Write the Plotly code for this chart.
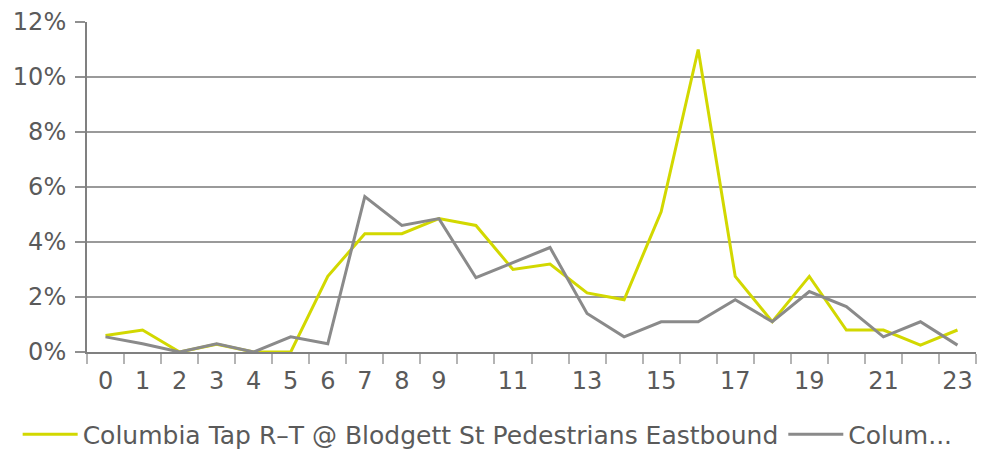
import plotly.graph_objects as go

hours = list(range(24))
tick_labels = ["0", "1", "2", "3", "4", "5", "6", "7", "8", "9", "11", "13", "15", "17", "19", "21", "23"]
tick_positions = [0, 1, 2, 3, 4, 5, 6, 7, 8, 9, 11, 13, 15, 17, 19, 21, 23]

series_a_name = "Columbia Tap R–T @ Blodgett St Pedestrians Eastbound"
series_a = [0.6, 0.8, 0.0, 0.28, 0.0, 0.0, 2.75, 4.3, 4.3, 4.85, 4.6, 3.0, 3.2, 2.15, 1.9,
            5.1, 11.0, 2.75, 1.1, 2.75, 0.8, 0.8, 0.25, 0.8]
series_b_name = "Colum..."
series_b = [0.55, 0.3, 0.0, 0.3, 0.0, 0.55, 0.3, 5.65, 4.6, 4.85, 2.7, 3.25, 3.8, 1.4, 0.55,
            1.1, 1.1, 1.9, 1.1, 2.2, 1.65, 0.55, 1.1, 0.25]
y_ticks = [0, 2, 4, 6, 8, 10, 12]
y_tick_labels = ["0%", "2%", "4%", "6%", "8%", "10%", "12%"]

FONT = "DejaVu Sans, sans-serif"
TXT = "#5a5a5a"
boundaries = [h - 0.5 for h in hours] + [23.5]

fig = go.Figure()
fig.add_trace(go.Scatter(x=hours, y=series_a, name=series_a_name, mode="lines",
                         line=dict(color="#d2d800", width=3)))
fig.add_trace(go.Scatter(x=hours, y=series_b, name=series_b_name, mode="lines",
                         line=dict(color="#8a8a8a", width=3)))

# page body has an 8px default margin, so the figure is sized to fit the window
fig.update_layout(
    width=979, height=442,
    margin=dict(l=79, r=11, t=14, b=98, autoexpand=False),
    plot_bgcolor="white", paper_bgcolor="white",
    font=dict(family=FONT, size=24, color=TXT),
    showlegend=True,
    legend=dict(orientation="h", x=-0.078, xanchor="left", y=-0.25, yanchor="middle",
                font=dict(family=FONT, size=25, color=TXT), itemwidth=55,
                bgcolor="rgba(0,0,0,0)"),
    xaxis=dict(range=[-0.5, 23.5], tickvals=tick_positions, ticktext=tick_labels,
               ticks="", showgrid=False, zeroline=False, ticklabelstandoff=6,
               showline=True, linecolor="#808080", linewidth=2, automargin=False,
               tickfont=dict(family=FONT, size=24, color=TXT),
               minor=dict(tickvals=boundaries, ticks="outside",
                          ticklen=10, tickcolor="#b4b4b4", tickwidth=1.5, showgrid=False)),
    xaxis2=dict(range=[-0.5, 23.5], overlaying="x", anchor="y", side="bottom",
                showticklabels=False, ticks="", showgrid=False, zeroline=False, showline=False,
                automargin=False,
                minor=dict(tickvals=boundaries, ticks="inside",
                           ticklen=9, tickcolor="#b4b4b4", tickwidth=1.5, showgrid=False)),
    yaxis=dict(range=[0, 12], tickvals=y_ticks, ticktext=y_tick_labels,
               ticks="outside", ticklen=10, tickcolor="#909090", tickwidth=1.5,
               ticklabelstandoff=4, automargin=False,
               showgrid=True, gridcolor="#9a9a9a", gridwidth=1.5, zeroline=False,
               showline=True, linecolor="#808080", linewidth=2,
               tickfont=dict(family=FONT, size=24, color=TXT)),
)

fig.write_html("out.html")
